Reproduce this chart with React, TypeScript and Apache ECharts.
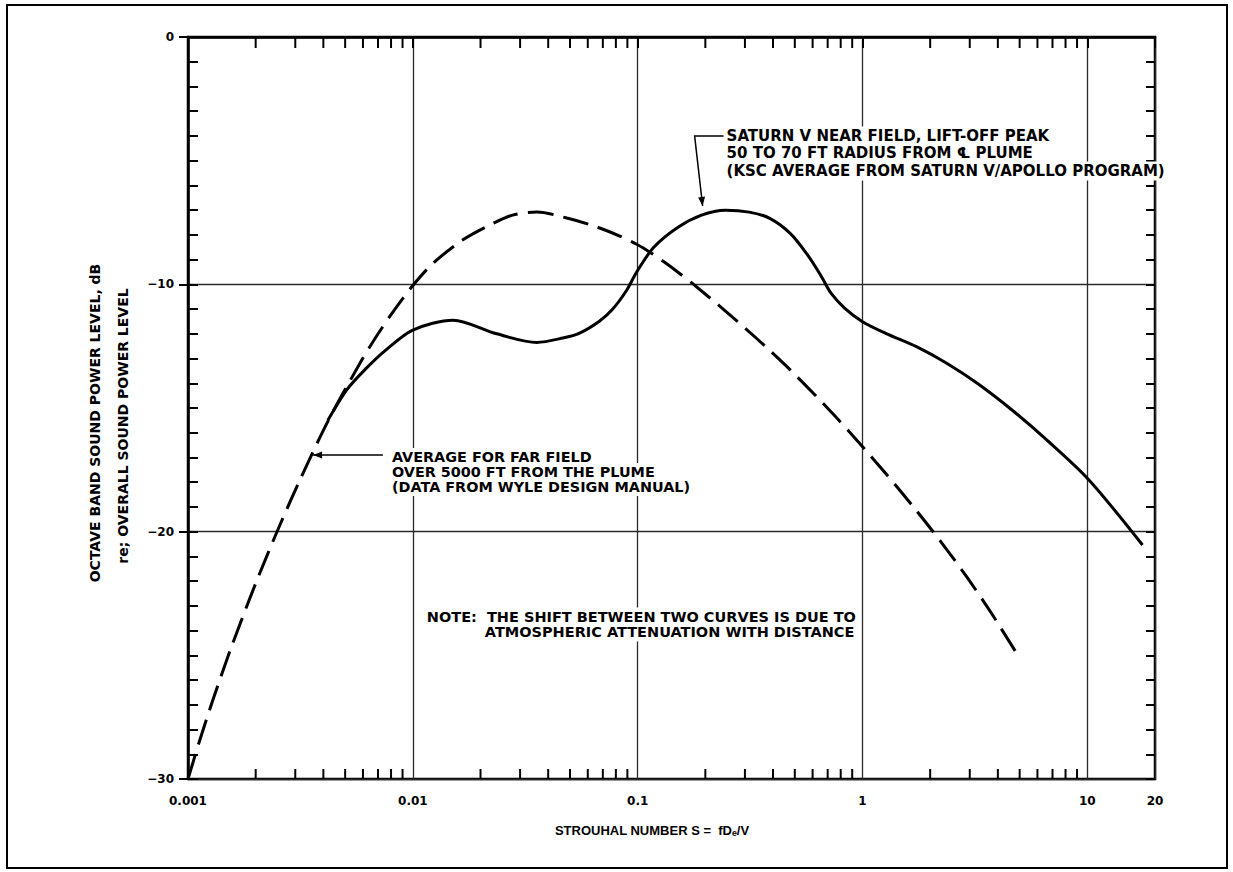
import React, { useEffect, useRef } from "react";
import * as echarts from "echarts";

// ---------- data ----------
const xMin = 0.001;
const xMax = 20;
const yMin = -30;
const yMax = 0;

const xDecades = [0.001, 0.01, 0.1, 1, 10];
const minorMultipliers = [2, 3, 4, 5, 6, 7, 8, 9];

// Far field (dashed) curve: Strouhal number vs dB
const farFieldS = [
  0.001, 0.00113, 0.00128, 0.00154, 0.00199, 0.00256, 0.00315, 0.00419, 0.00581, 0.00678,
  0.00818, 0.01, 0.0123, 0.0167, 0.0228, 0.0278, 0.0356, 0.0484, 0.0657, 0.0832,
  0.099, 0.1142, 0.1318, 0.1537, 0.1794, 0.2436, 0.3366, 0.4771, 0.726, 0.9585,
  1.269, 1.71, 2.25, 2.92, 3.74, 4.95,
];
const farFieldDb = [
  -30, -28.41, -26.9, -24.8, -22.14, -19.74, -17.9, -15.54, -13.2, -12.2,
  -11.1, -10.05, -9.15, -8.2, -7.53, -7.2, -7.08, -7.32, -7.68, -8.05,
  -8.38, -8.72, -9.11, -9.56, -10.04, -11.05, -12.17, -13.46, -15.16, -16.37,
  -17.65, -19.07, -20.45, -21.85, -23.29, -25.05,
];

// Near field (solid) curve
const nearFieldS = [
  0.00419, 0.0051, 0.0062, 0.0076, 0.01, 0.0151, 0.0236, 0.0356, 0.0465, 0.0552,
  0.0678, 0.0775, 0.0895, 0.099, 0.118, 0.1506, 0.1923, 0.2456, 0.3136, 0.3868,
  0.4771, 0.5686, 0.6534, 0.7259, 0.8344, 1.0, 1.269, 1.738, 2.379, 3.262,
  4.623, 6.56, 10.1, 17.6,
];
const nearFieldDb = [
  -15.5, -14.25, -13.4, -12.65, -11.85, -11.45, -12.0, -12.35, -12.17, -11.97,
  -11.48, -11.0, -10.23, -9.5, -8.5, -7.7, -7.2, -7.0, -7.08, -7.33,
  -7.94, -8.8, -9.65, -10.37, -10.97, -11.51, -11.98, -12.52, -13.2, -14.02,
  -15.08, -16.27, -17.88, -20.54,
];

// ---------- texts ----------
const yTitle1 = "OCTAVE BAND SOUND POWER LEVEL, dB";
const yTitle2 = "re; OVERALL SOUND POWER LEVEL";
const xTitle = "STROUHAL NUMBER S =  fDₑ/V";
const saturnLines = [
  "SATURN V NEAR FIELD, LIFT-OFF PEAK",
  "50 TO 70 FT RADIUS FROM ℄ PLUME",
  "(KSC AVERAGE FROM SATURN V/APOLLO PROGRAM)",
];
const farLines = [
  "AVERAGE FOR FAR FIELD",
  "OVER 5000 FT FROM THE PLUME",
  "(DATA FROM WYLE DESIGN MANUAL)",
];
const noteLine1 = "NOTE:  THE SHIFT BETWEEN TWO CURVES IS DUE TO";
const noteLine2 = "ATMOSPHERIC ATTENUATION WITH DISTANCE";

// annotation anchors (data coordinates)
const saturnTextAt = [0.2486, -4.0];
const saturnElbowAt = [0.1792, -4.0];
const saturnTipAt = [0.1945, -6.83];
const farTextAt = [0.00807, -16.98];
const farTailAt = [0.00736, -16.9];
const farTipAt = [0.0036, -16.9];
const note1At = [0.01154, -23.45];
const note2At = [0.0209, -24.06];

const FONT = '"DejaVu Sans", sans-serif';

function fmtX(v: number) {
  return String(Number(v.toPrecision(4)));
}
function fmtY(v: number) {
  if (v === 0) return "0";
  return "\u2212" + Math.abs(v);
}

export default function App() {
  const ref = useRef<HTMLDivElement>(null);
  useEffect(() => {
    const chart = echarts.init(ref.current!, null, { renderer: "svg" });

    const minorX: number[] = [];
    xDecades.forEach((d) =>
      minorMultipliers.forEach((m) => {
        const v = Number((m * d).toPrecision(3));
        if (v < xMax) minorX.push(v);
      })
    );

    const option: any = {
      animation: false,
      backgroundColor: "#fff",
      textStyle: { fontFamily: FONT },
      grid: {
        left: 188,
        right: 78,
        top: 37,
        bottom: 93,
        show: true,
        borderColor: "#000",
        borderWidth: 2.5,
        backgroundColor: "transparent",
      },
      xAxis: [
        {
          type: "log",
          logBase: 10,
          min: xMin,
          max: xMax,
          position: "bottom",
          axisLine: { show: true, lineStyle: { color: "#000", width: 2.5 } },
          axisTick: { show: true, inside: false, length: 11, lineStyle: { color: "#000", width: 2 } },
          axisLabel: {
            show: true,
            margin: 16,
            color: "#000",
            fontFamily: FONT,
            fontWeight: "bold",
            fontSize: 12,
            showMinLabel: true,
            showMaxLabel: true,
            formatter: (v: number) => fmtX(v),
          },
          splitLine: { show: true, lineStyle: { color: "#2a2a2a", width: 1.3 } },
          minorTick: { show: false },
        },
      ],
      yAxis: [
        {
          type: "value",
          min: yMin,
          max: yMax,
          interval: 10,
          position: "left",
          axisLine: { show: true, lineStyle: { color: "#000", width: 2.5 } },
          axisTick: { show: true, inside: false, length: 9, lineStyle: { color: "#000", width: 2 } },
          axisLabel: {
            show: true,
            margin: 14,
            color: "#000",
            fontFamily: FONT,
            fontWeight: "bold",
            fontSize: 12,
            formatter: (v: number) => fmtY(v),
          },
          splitLine: { show: true, lineStyle: { color: "#2a2a2a", width: 1.3 } },
        },
        {
          type: "value",
          min: yMin,
          max: yMax,
          interval: 1,
          position: "left",
          axisLine: { show: false },
          axisTick: { show: true, inside: true, length: 10, lineStyle: { color: "#000", width: 2 } },
          axisLabel: { show: false },
          splitLine: { show: false },
        },
        {
          type: "value",
          min: yMin,
          max: yMax,
          interval: 1,
          position: "right",
          axisLine: { show: false },
          axisTick: { show: true, inside: true, length: 9, lineStyle: { color: "#000", width: 2 } },
          axisLabel: { show: false },
          splitLine: { show: false },
        },
      ],
      series: [
        {
          name: "Far field",
          type: "line",
          xAxisIndex: 0,
          yAxisIndex: 0,
          data: farFieldS.map((s, i) => [s, farFieldDb[i]]),
          smooth: 0.3,
          showSymbol: false,
          symbol: "none",
          lineStyle: { color: "#000", width: 3, type: [26, 10] },
          z: 5,
        },
        {
          name: "Near field",
          type: "line",
          xAxisIndex: 0,
          yAxisIndex: 0,
          data: nearFieldS.map((s, i) => [s, nearFieldDb[i]]),
          smooth: 0.3,
          showSymbol: false,
          symbol: "none",
          lineStyle: { color: "#000", width: 3 },
          z: 6,
        },
        {
          name: "minor x ticks",
          type: "custom",
          xAxisIndex: 0,
          yAxisIndex: 0,
          silent: true,
          data: minorX.map((v) => [v, yMin]),
          encode: { x: 0, y: 1 },
          renderItem: (params: any, api: any) => {
            const v = api.value(0);
            const b = api.coord([v, yMin]);
            const t = api.coord([v, yMax]);
            return {
              type: "group",
              children: [
                {
                  type: "line",
                  shape: { x1: b[0], y1: b[1], x2: b[0], y2: b[1] - 10 },
                  style: { stroke: "#000", lineWidth: 2 },
                },
                {
                  type: "line",
                  shape: { x1: t[0], y1: t[1], x2: t[0], y2: t[1] + 11 },
                  style: { stroke: "#000", lineWidth: 2 },
                },
              ],
            };
          },
          z: 4,
        },
      ],
    };

    chart.setOption(option);

    const px = (p: number[]) => chart.convertToPixel({ gridIndex: 0 }, p) as number[];

    const textEl = (text: string, x: number, y: number, size: number, extra: any = {}) => ({
      type: "text",
      x,
      y,
      z: 100,
      style: {
        text,
        fill: "#000",
        fontFamily: FONT,
        fontWeight: "bold",
        fontSize: size,
        align: "left",
        verticalAlign: "middle",
        backgroundColor: "#fff",
        padding: [2, 3],
        ...extra,
      },
    });

    const arrowHead = (tip: number[], from: number[], len = 9, half = 3.5) => {
      const dx = tip[0] - from[0];
      const dy = tip[1] - from[1];
      const L = Math.hypot(dx, dy) || 1;
      const ux = dx / L;
      const uy = dy / L;
      const bx = tip[0] - ux * len;
      const by = tip[1] - uy * len;
      return {
        type: "polygon",
        z: 101,
        shape: {
          points: [
            [tip[0], tip[1]],
            [bx - uy * half, by + ux * half],
            [bx + uy * half, by - ux * half],
          ],
        },
        style: { fill: "#000" },
      };
    };

    const sText = px(saturnTextAt);
    const sElbow = px(saturnElbowAt);
    const sTip = px(saturnTipAt);
    const fText = px(farTextAt);
    const fTail = px(farTailAt);
    const fTip = px(farTipAt);
    const n1 = px(note1At);
    const n2 = px(note2At);

    const elements: any[] = [
      {
        type: "rect",
        z: 0,
        shape: { x: 7, y: 5, width: 1220, height: 863 },
        style: { fill: "none", stroke: "#000", lineWidth: 2 },
      },
      // y-axis titles
      {
        type: "text",
        x: 95,
        y: 423,
        rotation: Math.PI / 2,
        z: 100,
        style: {
          text: yTitle1,
          fill: "#000",
          fontFamily: FONT,
          fontWeight: "bold",
          fontSize: 14,
          align: "center",
          verticalAlign: "middle",
        },
      },
      {
        type: "text",
        x: 123,
        y: 426,
        rotation: Math.PI / 2,
        z: 100,
        style: {
          text: yTitle2,
          fill: "#000",
          fontFamily: FONT,
          fontWeight: "bold",
          fontSize: 14,
          align: "center",
          verticalAlign: "middle",
        },
      },
      // x-axis title
      {
        type: "text",
        x: 652,
        y: 830,
        z: 100,
        style: {
          text: xTitle,
          fill: "#000",
          fontFamily: '"Liberation Sans", sans-serif',
          fontWeight: "bold",
          fontSize: 13,
          align: "center",
          verticalAlign: "middle",
        },
      },
      // Saturn annotation
      ...saturnLines.map((t, i) => textEl(t, sText[0] - 3, sText[1] + i * 17.5, 15)),
      {
        type: "polyline",
        z: 101,
        shape: { points: [[sText[0] - 3, sText[1]], [sElbow[0], sElbow[1]], [sTip[0], sTip[1]]] },
        style: { stroke: "#000", lineWidth: 1.5, fill: "none" },
      },
      arrowHead(sTip, sElbow),
      // Far field annotation
      ...farLines.map((t, i) => textEl(t, fText[0] - 3, fText[1] + i * 15, 14.4)),
      {
        type: "line",
        z: 101,
        shape: { x1: fTail[0], y1: fTail[1], x2: fTip[0], y2: fTip[1] },
        style: { stroke: "#000", lineWidth: 1.5 },
      },
      arrowHead(fTip, fTail),
      // Note
      textEl(noteLine1, n1[0] - 3, n1[1], 14.5),
      textEl(noteLine2, n2[0] - 3, n2[1], 14.5),
    ];

    chart.setOption({ graphic: { elements } });

    return () => chart.dispose();
  }, []);

  return (
    <div
      ref={ref}
      style={{ position: "absolute", left: 0, top: 0, width: 1233, height: 872, background: "#fff" }}
    />
  );
}
